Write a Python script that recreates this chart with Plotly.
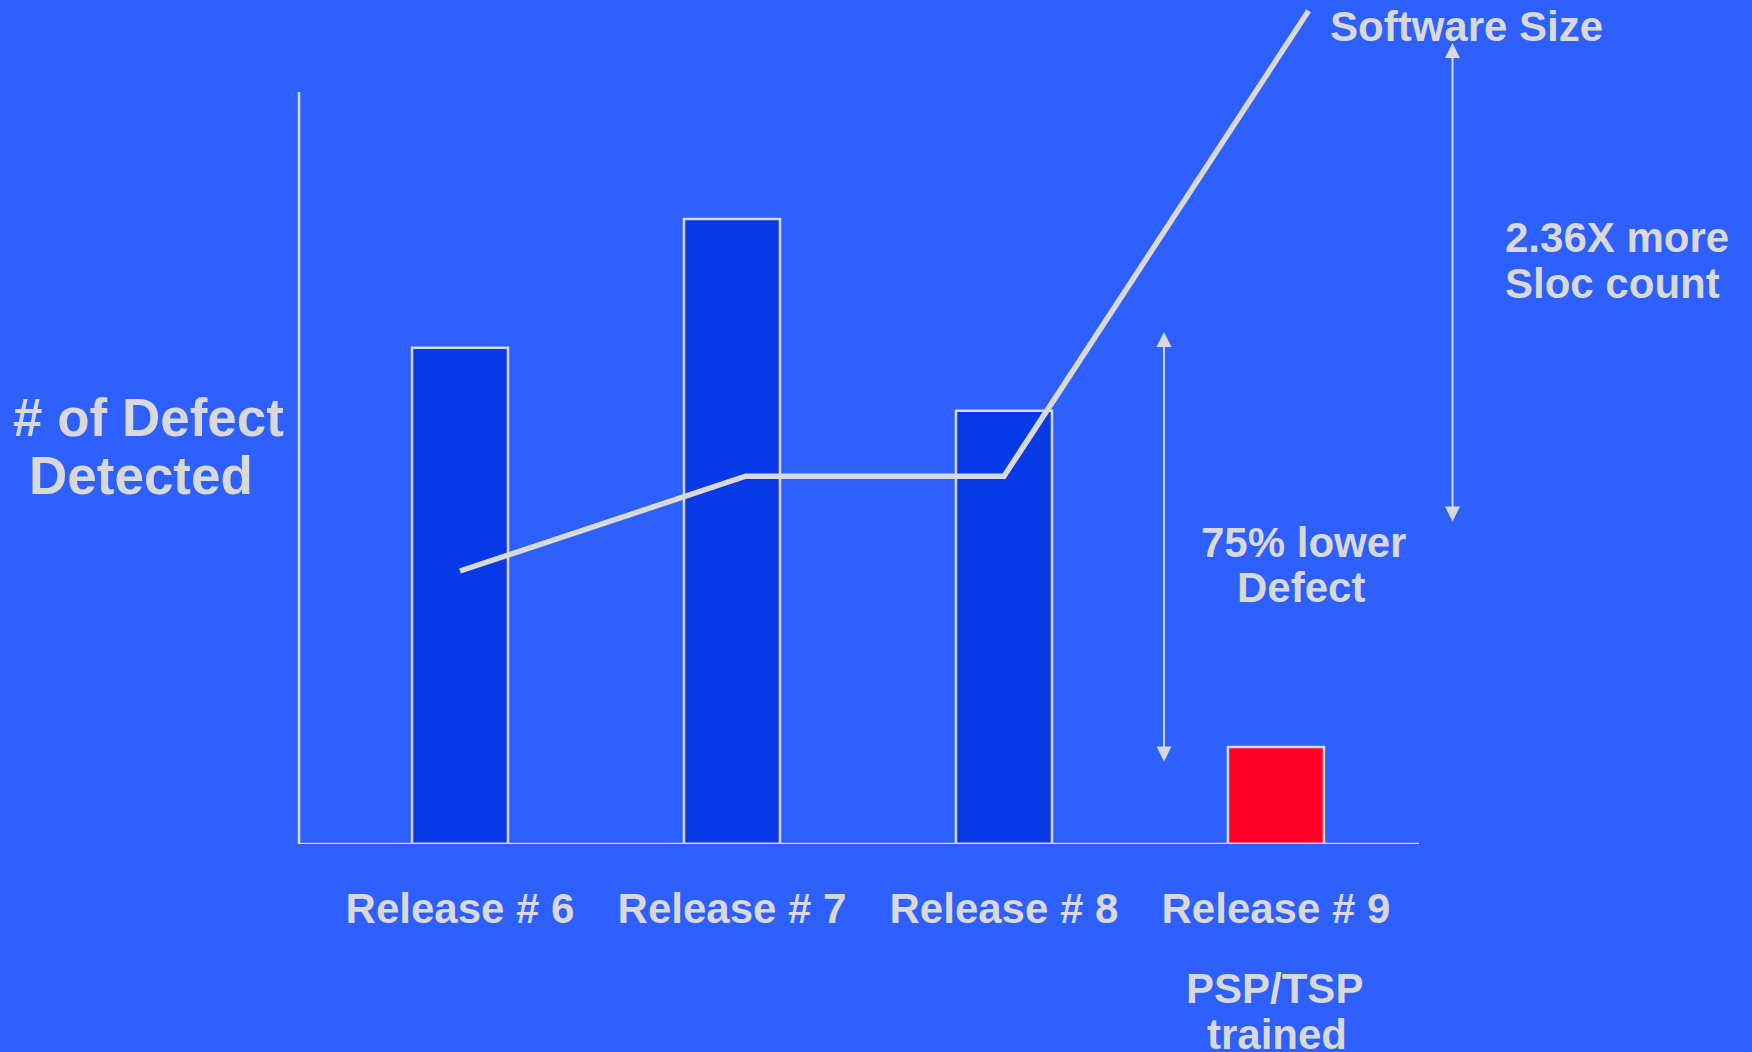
import plotly.graph_objects as go

# ---- data ----
categories = ["Release # 6", "Release # 7", "Release # 8", "Release # 9"]
defects = [66.0, 83.1, 57.6, 12.9]
bar_colors = ["#0739E6", "#0739E6", "#0739E6", "#FF0028"]
size_x = [0.0, 1.05, 2.0, 3.12]
size_y = [36.3, 48.9, 48.9, 110.8]

BG = "#2E5FFF"
FG = "#D9D9D9"
FONT = "Liberation Sans, Arial, sans-serif"

W, H = 1752, 1052
L, R, T, B = 299, 333, 0, 208
PW, PH = W - L - R, H - T - B


def px(xp):
    return (xp - L) / PW


def py(yp):
    return (H - B - yp) / PH


fig = go.Figure()
fig.add_trace(go.Bar(
    x=list(range(len(categories))), y=defects, width=0.353,
    marker=dict(color=bar_colors, line=dict(color=FG, width=2.5)),
    showlegend=False, hoverinfo="skip"))
fig.add_trace(go.Scatter(
    x=size_x, y=size_y, mode="lines",
    line=dict(color=FG, width=5.5), showlegend=False, hoverinfo="skip"))

fig.update_layout(
    width=W, height=H,
    margin=dict(l=L, r=R, t=T, b=B, pad=0),
    paper_bgcolor=BG, plot_bgcolor=BG,
    font=dict(family=FONT, color=FG),
    xaxis=dict(range=[-0.592, 3.526], tickvals=list(range(len(categories))),
               ticktext=categories, showgrid=False, zeroline=False,
               showline=False, ticks="",
               tickfont=dict(size=42, family=FONT, color=FG, weight="bold"),
               ticklabelstandoff=36),
    yaxis=dict(range=[0, 112.23], showgrid=False, zeroline=False,
               showline=False, showticklabels=False, ticks=""),
)

# axis lines
fig.add_shape(type="line", xref="paper", yref="y", x0=0, x1=1, y0=0, y1=0,
              line=dict(color=FG, width=2.5), layer="above")
fig.add_shape(type="line", xref="paper", yref="y", x0=0, x1=0, y0=0, y1=100,
              line=dict(color=FG, width=2.5))

tf = dict(family=FONT, color=FG, weight="bold")


def txt(t, x, y, size, xanchor="center"):
    fig.add_annotation(text=t, xref="paper", yref="paper", x=px(x), y=py(y),
                       xanchor=xanchor, yanchor="middle", showarrow=False,
                       font=dict(size=size, **tf))


txt("# of Defect", 148, 418, 53)
txt("Detected", 141, 476, 53)
txt("Software Size", 1328, 26, 42, "left")
txt("2.36X more", 1503, 237, 42, "left")
txt("Sloc count", 1503, 283, 42, "left")
txt("75% lower", 1303, 542, 42)
txt("Defect", 1301, 587, 42)
txt("PSP/TSP", 1274, 988, 42)
txt("trained", 1277, 1034, 42)


def darrow(x, y0, y1):
    fig.add_annotation(text="", xref="paper", yref="paper", x=px(x), y=py(y0),
                       ax=0, ay=y1 - y0, axref="pixel", ayref="pixel",
                       showarrow=True, arrowhead=2, startarrowhead=2,
                       arrowside="end+start", arrowsize=1.5, startarrowsize=1.5,
                       arrowwidth=2, arrowcolor=FG)


darrow(1452.5, 43, 523)
darrow(1164, 332, 763)

fig.write_html("out.html")
